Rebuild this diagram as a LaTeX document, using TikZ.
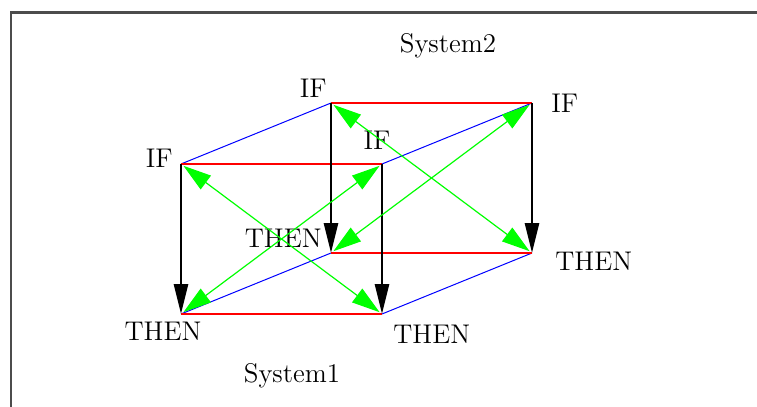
\documentclass[tikz,border=0pt]{standalone}
\usepackage{tikz}
\usetikzlibrary{arrows.meta, positioning}

\begin{document}
\begin{tikzpicture}[x=0.5pt, y=-0.5pt,
    lbl/.style={inner sep=0pt, font=\fontsize{13.5}{16}\selectfont},
    sysedge/.style={draw=red, line width=0.9pt},
    linkedge/.style={draw=blue, line width=0.5pt},
    rule/.style={draw=black, line width=1.4pt, -{Triangle[length=15pt, width=7pt]}},
    equiv/.style={draw=green, line width=0.6pt, shorten <=1.5pt, shorten >=1.5pt,
        {Triangle[length=14pt, width=8.5pt]}-{Triangle[length=14pt, width=8.5pt]}}
]
    \useasboundingbox (0,0) rectangle (757,407);

    % Window frame (top and left edges)
    \draw[black!70, line width=1.5pt] (10,12.5) -- (757,12.5);
    \draw[black!70, line width=1pt] (11,12) -- (11,407);

    % Cube corners: front face = System1, back face = System2
    \coordinate (fTL) at (181,164);
    \coordinate (fTR) at (382,164);
    \coordinate (fBL) at (181,314);
    \coordinate (fBR) at (382,314);
    \coordinate (bTL) at (331,103);
    \coordinate (bTR) at (532,103);
    \coordinate (bBL) at (331,253);
    \coordinate (bBR) at (532,253);

    % Corner labels
    \node[lbl, left=4pt of fTL, yshift=3pt] (ifFTL) {IF};
    \node[lbl, left=2pt of bTL, yshift=7.5pt] (ifBTL) {IF};
    \node[lbl, above=7pt of fTR, xshift=-2.5pt] (ifFTR) {IF};
    \node[lbl, right=9.5pt of bTR] (ifBTR) {IF};
    \node[lbl, below=4pt of fBL, xshift=-9pt] (thenFBL) {THEN};
    \node[lbl, below right=5.5pt and 5.5pt of fBR] (thenFBR) {THEN};
    \node[lbl, left=4.5pt of bBL, yshift=7.5pt] (thenBBL) {THEN};
    \node[lbl, right=11.5pt of bBR, yshift=-4pt] (thenBBR) {THEN};

    % System names
    \node[lbl] (sys1) at (292,376) {System1};
    \node[lbl] (sys2) at (448,46) {System2};

    % Links between the two systems
    \draw[linkedge] (fTL) -- (bTL);
    \draw[linkedge] (fTR) -- (bTR);
    \draw[linkedge] (fBL) -- (bBL);
    \draw[linkedge] (fBR) -- (bBR);

    % Edges inside each system
    \draw[sysedge] (fTL) -- (fTR);
    \draw[sysedge] (fBL) -- (fBR);
    \draw[sysedge] (bTL) -- (bTR);
    \draw[sysedge] (bBL) -- (bBR);

    % IF -> THEN rules
    \draw[rule] (fTL) -- (fBL);
    \draw[rule] (fTR) -- (fBR);
    \draw[rule] (bTL) -- (bBL);
    \draw[rule] (bTR) -- (bBR);

    % Equivalences
    \draw[equiv] (fTL) -- (fBR);
    \draw[equiv] (fTR) -- (fBL);
    \draw[equiv] (bTL) -- (bBR);
    \draw[equiv] (bTR) -- (bBL);
\end{tikzpicture}
\end{document}
